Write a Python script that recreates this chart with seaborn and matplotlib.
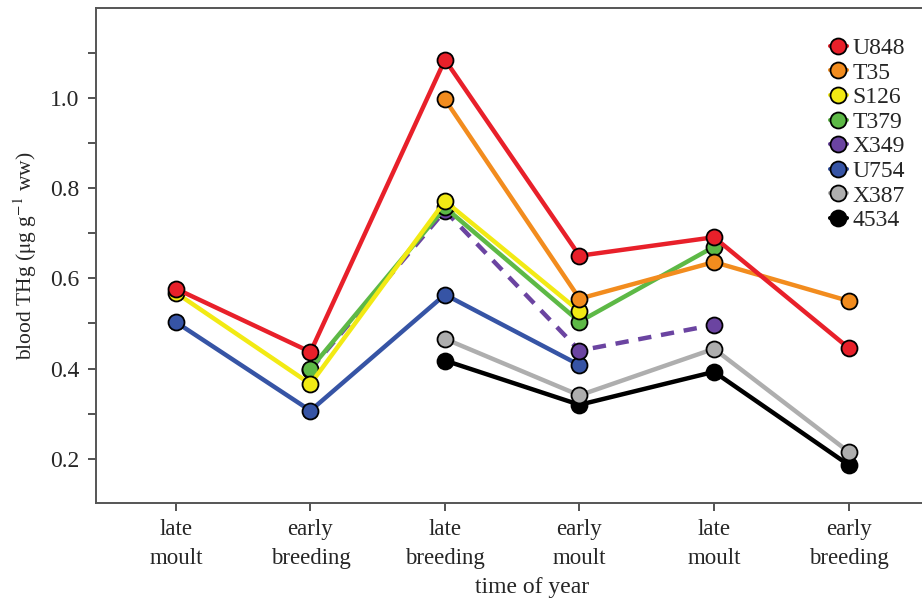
import numpy as np
import pandas as pd
import matplotlib
matplotlib.use("Agg")
import matplotlib.pyplot as plt
from matplotlib.lines import Line2D
from matplotlib.ticker import MultipleLocator
import seaborn as sns

# ---- data ----
periods = ["late\nmoult", "early\nbreeding", "late\nbreeding", "early\nmoult", "late\nmoult", "early\nbreeding"]
birds = ["U848", "T35", "S126", "T379", "X349", "U754", "X387", "4534"]
U848 = [0.577, 0.437, 1.084, 0.650, 0.691, 0.446]
T35 = [None, None, 0.996, 0.555, 0.636, 0.550]
S126 = [0.568, 0.366, 0.771, 0.527, None, None]
T379 = [None, 0.400, 0.757, 0.504, 0.670, None]
X349 = [None, 0.398, 0.750, 0.440, 0.497, None]
U754 = [0.503, 0.307, 0.564, 0.408, None, None]
X387 = [None, None, 0.466, 0.341, 0.444, 0.216]
B4534 = [None, None, 0.418, 0.320, 0.393, 0.187]
series = [U848, T35, S126, T379, X349, U754, X387, B4534]
colors = ["#E8202A", "#F28C1E", "#F2EA14", "#5DB946", "#6B44A1", "#3654A5", "#AEAEAE", "#000000"]

rows = []
for b, vals in zip(birds, series):
    for i, v in enumerate(vals):
        if v is not None:
            rows.append({"bird": b, "pos": i, "thg": v})
df = pd.DataFrame(rows)

sns.set_style("ticks")
plt.rcParams["font.family"] = ["Liberation Serif", "DejaVu Serif"]
plt.rcParams["mathtext.fontset"] = "stix"

fig = plt.figure(figsize=(9.22, 6.0), dpi=100)
ax = fig.add_axes([0.104, 0.162, 0.896 + 0.05, 0.825])

for b, c in reversed(list(zip(birds, colors))):
    sub = df[df["bird"] == b]
    sns.lineplot(data=sub, x="pos", y="thg", ax=ax, color=c, lw=3.2,
                 linestyle=(0, (3, 2.2)) if b == "X349" else "-",
                 marker="o", markersize=11.5, markeredgecolor="black",
                 markeredgewidth=1.3, markerfacecolor=c, legend=False)

ax.set_xlim(-0.595, 5.546 + 0.05 * 922 / 134.5)
ax.set_ylim(0.103, 1.199)
ax.set_xticks(range(len(periods)))
ax.set_xticklabels(periods, fontsize=16.5, linespacing=1.45)
ax.yaxis.set_major_locator(MultipleLocator(0.2))
ax.yaxis.set_minor_locator(MultipleLocator(0.1))
ax.yaxis.set_major_formatter(matplotlib.ticker.FormatStrFormatter("%.1f"))
ax.tick_params(axis="both", which="both", length=6, width=1.3, color="#444444", direction="out", pad=6)
ax.tick_params(axis="y", which="major", labelsize=17)
for s in ["left", "bottom", "top"]:
    ax.spines[s].set_color("#555555")
    ax.spines[s].set_linewidth(1.4)
ax.spines["right"].set_visible(False)
ax.spines["top"].set_visible(True)

ax.set_xlabel("time of year", fontsize=17, labelpad=6)
ax.set_ylabel(r"blood THg ($\mathrm{\mu}$g g$^{-1}$ ww)", fontsize=15.5, labelpad=8)

handles = [Line2D([0], [0], color=c, lw=3, marker="o", markersize=11.5,
                  markeredgecolor="black", markeredgewidth=1.3) for c in colors]
leg = ax.legend(handles, birds, loc="upper left", bbox_to_anchor=(0.831, 0.959),
                frameon=False, fontsize=17, handlelength=0.7, handletextpad=0.25,
                labelspacing=0.13, borderaxespad=0)

fig.savefig("out.png", dpi=100)
